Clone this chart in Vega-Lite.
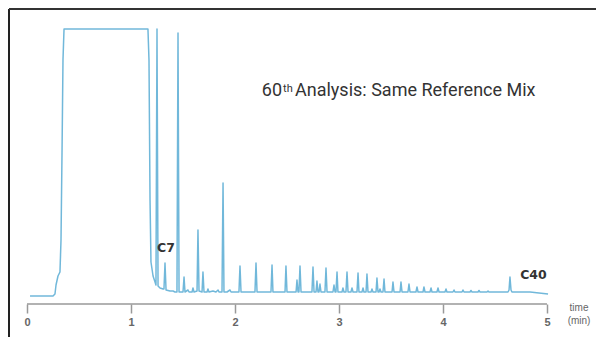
{
  "$schema": "https://vega.github.io/schema/vega-lite/v6.json",
  "width": 587,
  "height": 328,
  "autosize": "none",
  "padding": {"left": 9, "top": 9, "right": 0, "bottom": 0},
  "background": "white",
  "config": {"view": {"stroke": null}},
  "layer": [
    {
      "data": {"values": [
        {"t":0.029,"v":8},{"t":0.250,"v":8},{"t":0.269,"v":10},{"t":0.279,"v":19},{"t":0.298,"v":28},{"t":0.317,"v":32},{"t":0.327,"v":64},{"t":0.337,"v":154},{"t":0.346,"v":244},{"t":0.356,"v":275},
        {"t":1.163,"v":275},{"t":1.173,"v":244},{"t":1.183,"v":104},{"t":1.192,"v":42},{"t":1.212,"v":28},{"t":1.231,"v":22},{"t":1.240,"v":19},{"t":1.250,"v":275},{"t":1.260,"v":18},{"t":1.279,"v":16},{"t":1.308,"v":15},{"t":1.317,"v":15},{"t":1.327,"v":41},{"t":1.337,"v":14},{"t":1.375,"v":13},{"t":1.404,"v":13},{"t":1.423,"v":12},{"t":1.442,"v":12},{"t":1.452,"v":271},{"t":1.462,"v":12},
        {"t":1.490,"v":12},{"t":1.500,"v":12},{"t":1.510,"v":27},{"t":1.519,"v":12},{"t":1.548,"v":14},{"t":1.558,"v":12},{"t":1.587,"v":12},{"t":1.596,"v":16},{"t":1.606,"v":12},{"t":1.635,"v":13},{"t":1.644,"v":74},{"t":1.654,"v":13},{"t":1.683,"v":12},{"t":1.692,"v":32},{"t":1.702,"v":12},{"t":1.731,"v":12},{"t":1.740,"v":15},{"t":1.750,"v":12},{"t":1.788,"v":13},{"t":1.817,"v":12},{"t":1.837,"v":14},{"t":1.846,"v":12},{"t":1.875,"v":12},{"t":1.885,"v":121},{"t":1.894,"v":12},{"t":1.923,"v":12},{"t":1.952,"v":14},{"t":1.962,"v":12},{"t":2.010,"v":12},
        {"t":2.038,"v":12},{"t":2.048,"v":38},{"t":2.058,"v":12},
        {"t":2.192,"v":12},{"t":2.202,"v":41},{"t":2.212,"v":12},
        {"t":2.346,"v":12},{"t":2.356,"v":39},{"t":2.365,"v":12},
        {"t":2.481,"v":12},{"t":2.490,"v":38},{"t":2.500,"v":12},
        {"t":2.587,"v":12},{"t":2.596,"v":24},{"t":2.606,"v":12},
        {"t":2.615,"v":12},{"t":2.625,"v":38},{"t":2.635,"v":12},
        {"t":2.740,"v":12},{"t":2.750,"v":37},{"t":2.760,"v":12},
        {"t":2.779,"v":12},{"t":2.788,"v":23},{"t":2.798,"v":12},
        {"t":2.808,"v":12},{"t":2.817,"v":20},{"t":2.827,"v":12},
        {"t":2.865,"v":12},{"t":2.875,"v":36},{"t":2.885,"v":12},
        {"t":2.942,"v":12},{"t":2.952,"v":19},{"t":2.962,"v":12},
        {"t":2.971,"v":12},{"t":2.981,"v":32},{"t":2.990,"v":12},
        {"t":3.029,"v":12},{"t":3.038,"v":16},{"t":3.048,"v":12},
        {"t":3.067,"v":12},{"t":3.077,"v":32},{"t":3.087,"v":12},
        {"t":3.115,"v":12},{"t":3.125,"v":16},{"t":3.135,"v":12},
        {"t":3.173,"v":12},{"t":3.183,"v":31},{"t":3.192,"v":12},
        {"t":3.221,"v":12},{"t":3.231,"v":16},{"t":3.240,"v":12},
        {"t":3.260,"v":12},{"t":3.269,"v":30},{"t":3.279,"v":12},
        {"t":3.308,"v":12},{"t":3.317,"v":15},{"t":3.327,"v":12},
        {"t":3.356,"v":12},{"t":3.365,"v":26},{"t":3.375,"v":12},
        {"t":3.385,"v":12},{"t":3.394,"v":15},{"t":3.404,"v":12},
        {"t":3.423,"v":12},{"t":3.433,"v":25},{"t":3.442,"v":12},
        {"t":3.510,"v":12},{"t":3.519,"v":22},{"t":3.529,"v":12},
        {"t":3.587,"v":12},{"t":3.596,"v":22},{"t":3.606,"v":12},
        {"t":3.663,"v":12},{"t":3.673,"v":20},{"t":3.683,"v":12},
        {"t":3.740,"v":12},{"t":3.750,"v":17},{"t":3.760,"v":12},
        {"t":3.808,"v":12},{"t":3.817,"v":17},{"t":3.827,"v":12},
        {"t":3.875,"v":12},{"t":3.885,"v":16},{"t":3.894,"v":12},
        {"t":3.942,"v":12},{"t":3.952,"v":16},{"t":3.962,"v":12},
        {"t":4.019,"v":12},{"t":4.029,"v":15},{"t":4.038,"v":12},
        {"t":4.096,"v":12},{"t":4.106,"v":14},{"t":4.115,"v":12},
        {"t":4.183,"v":12},{"t":4.192,"v":14},{"t":4.202,"v":12},
        {"t":4.260,"v":12},{"t":4.269,"v":13.5},{"t":4.279,"v":12},
        {"t":4.337,"v":12},{"t":4.346,"v":13.5},{"t":4.356,"v":12},
        {"t":4.423,"v":12},{"t":4.433,"v":13},{"t":4.442,"v":12},
        {"t":4.625,"v":12},{"t":4.635,"v":14},{"t":4.644,"v":27},{"t":4.654,"v":14},{"t":4.663,"v":12},
        {"t":4.837,"v":12},{"t":4.923,"v":11},{"t":5.010,"v":10}
      ]},
      "mark": {"type": "line", "color": "#62b0d6", "strokeWidth": 1.5, "strokeJoin": "round", "opacity": 0.9},
      "encoding": {
        "x": {"field": "t", "type": "quantitative", "scale": {"domain": [-0.1731, 5.4712], "nice": false, "zero": false},
              "axis": {"orient": "bottom", "offset": -33, "values": [0,1,2,3,4,5], "format": "d", "domain": false, "grid": false, "title": null,
                       "tickSize": 9, "tickColor": "#999999", "tickWidth": 1.5, "labelPadding": 3, "labelFont": "Liberation Sans",
                       "labelFontSize": 11, "labelFontWeight": "bold", "labelColor": "#666666", "labelFlush": false}},
        "y": {"field": "v", "type": "quantitative", "scale": {"domain": [-33, 295], "nice": false, "zero": false}, "axis": null}
      }
    },
    {
      "data": {"values": [{"t0": 0, "t1": 5, "v": 0}]},
      "mark": {"type": "rule", "color": "#999999", "strokeWidth": 1.5},
      "encoding": {"x": {"field": "t0", "type": "quantitative"}, "x2": {"field": "t1"}, "y": {"field": "v", "type": "quantitative"}}
    },
    {
      "data": {"values": [{"edge": -0.1731}]},
      "mark": {"type": "rule", "color": "#222222", "strokeWidth": 2},
      "encoding": {"x": {"field": "edge", "type": "quantitative"}}
    },
    {
      "data": {"values": [{"edge": 295}]},
      "mark": {"type": "rule", "color": "#333333", "strokeWidth": 2},
      "encoding": {"y": {"field": "edge", "type": "quantitative"}}
    },
    {
      "data": {"values": [{"t": 1.337, "v": 56.5, "label": "C7"}, {"t": 4.870, "v": 29.5, "label": "C40"}]},
      "mark": {"type": "text", "font": "DejaVu Sans", "fontWeight": "bold", "fontSize": 12.5, "color": "#333333", "baseline": "middle", "align": "center"},
      "encoding": {"x": {"field": "t", "type": "quantitative"}, "y": {"field": "v", "type": "quantitative"}, "text": {"field": "label"}}
    },
    {
      "data": {"values": [{"t": 5.308, "v": -4, "label": "time"}, {"t": 5.308, "v": -17, "label": "(min)"}]},
      "mark": {"type": "text", "font": "Liberation Sans", "fontSize": 10, "color": "#666666", "baseline": "middle", "align": "center"},
      "encoding": {"x": {"field": "t", "type": "quantitative"}, "y": {"field": "v", "type": "quantitative"}, "text": {"field": "label"}}
    },
    {
      "data": {"values": [{"t": 2.452, "v": 208, "label": "60"}]},
      "mark": {"type": "text", "font": "Roboto", "fontSize": 18, "color": "#333333", "baseline": "alphabetic", "align": "right"},
      "encoding": {"x": {"field": "t", "type": "quantitative"}, "y": {"field": "v", "type": "quantitative"}, "text": {"field": "label"}}
    },
    {
      "data": {"values": [{"t": 2.462, "v": 212, "label": "th"}]},
      "mark": {"type": "text", "font": "Roboto", "fontSize": 11, "color": "#333333", "baseline": "alphabetic", "align": "left"},
      "encoding": {"x": {"field": "t", "type": "quantitative"}, "y": {"field": "v", "type": "quantitative"}, "text": {"field": "label"}}
    },
    {
      "data": {"values": [{"t": 2.577, "v": 208, "label": "Analysis: Same Reference Mix"}]},
      "mark": {"type": "text", "font": "Roboto", "fontSize": 18, "color": "#333333", "baseline": "alphabetic", "align": "left"},
      "encoding": {"x": {"field": "t", "type": "quantitative"}, "y": {"field": "v", "type": "quantitative"}, "text": {"field": "label"}}
    }
  ]
}
